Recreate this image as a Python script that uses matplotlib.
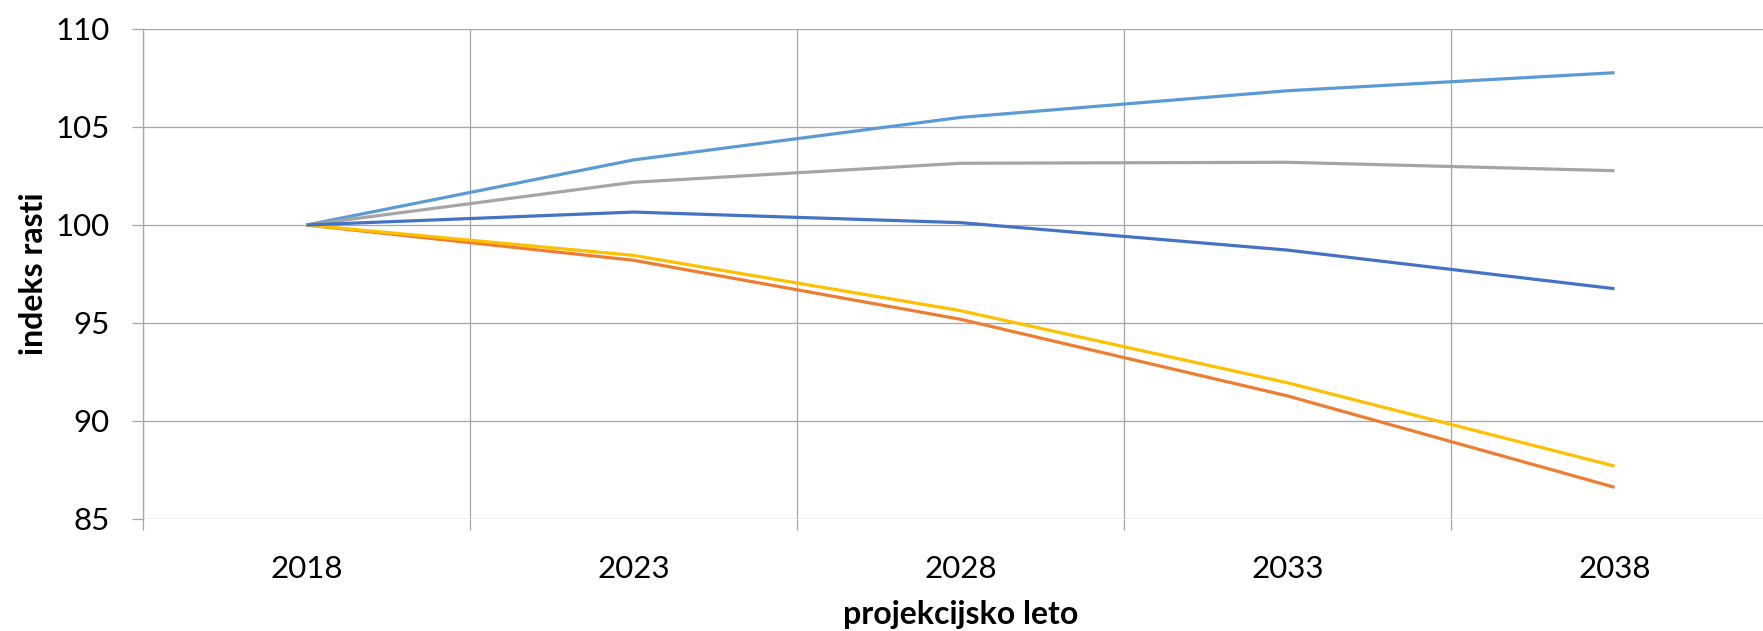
import matplotlib
matplotlib.use("Agg")
import matplotlib.pyplot as plt
import numpy as np

years = ["2018", "2023", "2028", "2033", "2038"]
s_lightblue = [100.0, 103.32, 105.49, 106.85, 107.77]
s_orange = [100.0, 98.20, 95.19, 91.28, 86.62]
s_gray = [100.0, 102.18, 103.15, 103.20, 102.77]
s_yellow = [100.0, 98.45, 95.63, 91.95, 87.70]
s_darkblue = [100.0, 100.66, 100.12, 98.72, 96.75]

series = [
    (s_lightblue, "#5B9BD5"),
    (s_orange, "#ED7D31"),
    (s_gray, "#A5A5A5"),
    (s_yellow, "#FFC000"),
    (s_darkblue, "#4472C4"),
]

plt.rcParams['font.family'] = ['Lato', 'DejaVu Sans']

W, H = 1763, 631
fig = plt.figure(figsize=(W / 100, H / 100), dpi=100)
ax = fig.add_axes([143 / W, 112 / H, 1635 / W, 490 / H])

x = np.arange(len(years))
for vals, col in series:
    ax.plot(x, vals, color=col, lw=2.3, solid_capstyle='butt', zorder=3)

ax.set_xlim(-0.5, len(years) - 0.5)
ax.set_ylim(85, 110)
ax.set_yticks(np.arange(85, 111, 5))

grid_c = "#A6A6A6"
ax.set_xticks(np.arange(-0.5, len(years), 1.0))
ax.set_xticklabels([])
ax.set_xticks(x, minor=True)
ax.set_xticklabels(years, minor=True)
ax.tick_params(axis='x', which='major', length=8, width=0.9, color=grid_c, direction='out')
ax.tick_params(axis='x', which='minor', length=0, pad=26, labelsize=22.5)
ax.tick_params(axis='y', which='major', length=8, width=0.9, color=grid_c, direction='out', pad=16, labelsize=22.5)

ax.grid(True, axis='both', which='major', color=grid_c, lw=0.9, zorder=0)
for s in ['top', 'right', 'bottom']:
    ax.spines[s].set_visible(False)
ax.spines['left'].set_color(grid_c)
ax.spines['left'].set_linewidth(0.9)

ax.set_xlabel("projekcijsko leto", fontsize=23, fontweight='bold')
ax.set_ylabel("indeks rasti", fontsize=23, fontweight='bold')
ax.xaxis.set_label_coords(0.5, -0.165)
ax.yaxis.set_label_coords(-0.058, 0.5)

fig.savefig("out.png", dpi=100)
